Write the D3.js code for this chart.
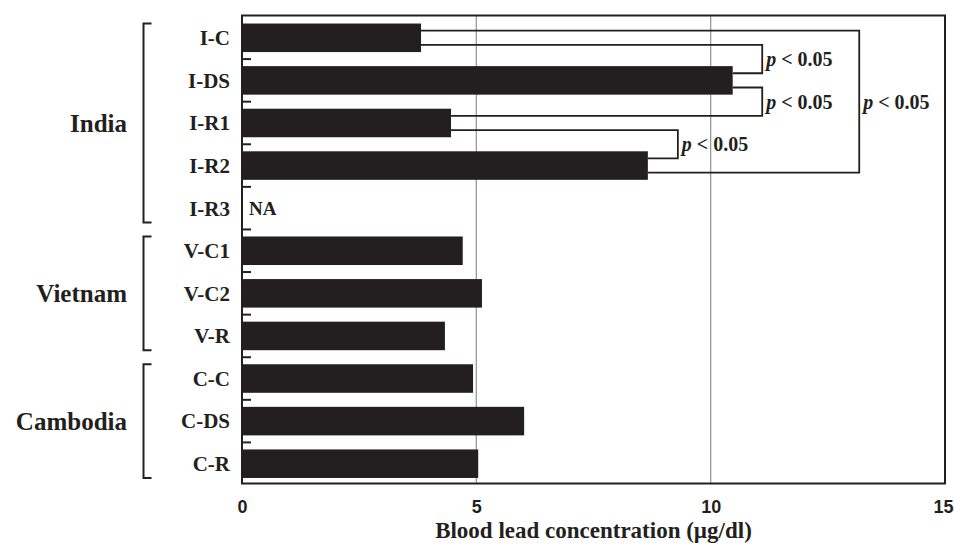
<!DOCTYPE html>
<html>
<head>
<meta charset="utf-8">
<script src="https://cdn.jsdelivr.net/npm/d3@7"></script>
<style>
  body { margin: 0; background: #fff; }
  svg { display: block; font-family: "Liberation Serif", "Times New Roman", serif; font-weight: bold; }
</style>
</head>
<body>
<div id="chart"></div>
<script>
// site codes, top to bottom
const categories = ["I-C", "I-DS", "I-R1", "I-R2", "I-R3", "V-C1", "V-C2", "V-R", "C-C", "C-DS", "C-R"];
// blood lead, µg/dl (I-R3 not available)
const values = [3.82, 10.47, 4.46, 8.66, null, 4.71, 5.12, 4.33, 4.93, 6.02, 5.04];

const countries = ["India", "Vietnam", "Cambodia"];
const countryFirst = ["I-C", "V-C1", "C-C"];
const countryLast = ["I-R3", "V-R", "C-R"];

const xTicks = [0, 5, 10, 15];
const gridValues = [5, 10];

// significance brackets: pair of sites, where the bracket stands (in µg/dl)
const compA = ["I-C", "I-DS", "I-R1", "I-C"];
const compB = ["I-DS", "I-R1", "I-R2", "I-R2"];
const compAt = [11.1, 11.1, 9.3, 13.17];
const compOuter = [false, false, false, true];
const pText = "< 0.05";
const naText = "NA";
const xTitle = "Blood lead concentration (µg/dl)";

const width = 954, height = 549;
const ink = "#231f20";
const plot = { left: 242, right: 945, top: 15.5, bottom: 483.5 };

const svg = d3.select("#chart").append("svg")
  .attr("width", width)
  .attr("height", height);

const x = d3.scaleLinear().domain([0, 15]).range([plot.left, plot.right]);
const y = d3.scaleBand()
  .domain(categories)
  .range([plot.top + 1, plot.bottom + 1.5])
  .paddingInner(0.33)
  .paddingOuter(0.165);

const bw = y.bandwidth();
const gap = y.step() - bw;
const val = c => values[categories.indexOf(c)];

// gridlines
svg.append("g")
  .selectAll("line")
  .data(gridValues)
  .join("line")
  .attr("x1", d => x(d)).attr("x2", d => x(d))
  .attr("y1", plot.top).attr("y2", plot.bottom)
  .attr("stroke", "#9a9a9a")
  .attr("stroke-width", 1.3);

// bars
const rows = categories.map((c, i) => ({ c, v: values[i] }));
svg.append("g")
  .selectAll("rect")
  .data(rows.filter(d => d.v != null))
  .join("rect")
  .attr("x", x(0))
  .attr("y", d => y(d.c))
  .attr("width", d => x(d.v) - x(0))
  .attr("height", bw)
  .attr("fill", ink);

// NA note
rows.filter(d => d.v == null).forEach(d => {
  svg.append("text")
    .attr("x", x(0) + 7)
    .attr("y", y(d.c) + bw / 2)
    .attr("dy", "0.35em")
    .attr("font-size", 19)
    .attr("fill", ink)
    .text(naText);
});

// significance brackets
const comps = compA.map((a, i) => ({ a, b: compB[i], at: compAt[i], outer: compOuter[i] }));
const upper = c => y(c) + bw * 0.25;
const lower = c => y(c) + bw * 0.75;

const cg = svg.append("g");
comps.forEach(d => {
  const y1 = d.outer ? upper(d.a) : lower(d.a);
  const y2 = d.outer ? lower(d.b) : upper(d.b);
  const p = d3.path();
  p.moveTo(x(val(d.a)), y1);
  p.lineTo(x(d.at), y1);
  p.lineTo(x(d.at), y2);
  p.lineTo(x(val(d.b)), y2);
  cg.append("path")
    .attr("d", p.toString())
    .attr("fill", "none")
    .attr("stroke", ink)
    .attr("stroke-width", 1.8);

  const t = cg.append("text")
    .attr("x", x(d.at) + 4)
    .attr("y", (y1 + y2) / 2)
    .attr("dy", "0.35em")
    .attr("font-size", 20)
    .attr("fill", ink);
  t.append("tspan").attr("font-style", "italic").text("p");
  t.append("tspan").text(" " + pText);
});

// frame
svg.append("rect")
  .attr("x", plot.left).attr("y", plot.top)
  .attr("width", plot.right - plot.left)
  .attr("height", plot.bottom - plot.top)
  .attr("fill", "none")
  .attr("stroke", ink)
  .attr("stroke-width", 2);

// small ticks between rows on the left axis
svg.append("g")
  .selectAll("line")
  .data(categories.slice(1))
  .join("line")
  .attr("x1", plot.left).attr("x2", plot.left + 9)
  .attr("y1", d => y(d) - gap / 2)
  .attr("y2", d => y(d) - gap / 2)
  .attr("stroke", ink)
  .attr("stroke-width", 2);

// site labels
svg.append("g")
  .selectAll("text")
  .data(categories)
  .join("text")
  .attr("x", 230)
  .attr("y", d => y(d) + bw / 2)
  .attr("dy", "0.35em")
  .attr("text-anchor", "end")
  .attr("font-size", 21)
  .attr("fill", ink)
  .text(d => d);

// country brackets + names
countries.forEach((name, i) => {
  const y0 = y(countryFirst[i]);
  const y1 = y(countryLast[i]) + bw;
  svg.append("path")
    .attr("d", `M151.5,${y0}H143.5V${y1}H151.5`)
    .attr("fill", "none")
    .attr("stroke", ink)
    .attr("stroke-width", 2);
  svg.append("text")
    .attr("x", 127)
    .attr("y", (y0 + y1) / 2)
    .attr("dy", "0.35em")
    .attr("text-anchor", "end")
    .attr("font-size", 25)
    .attr("fill", ink)
    .text(name);
});

// x axis labels
const xAxis = svg.append("g")
  .attr("transform", `translate(0,${plot.bottom})`)
  .call(d3.axisBottom(x).tickValues(xTicks).tickSize(0).tickPadding(17).tickFormat(d3.format("d")));
xAxis.select(".domain").remove();
xAxis.selectAll("text")
  .attr("font-size", 18)
  .attr("font-family", null)
  .attr("fill", ink);
// last label sits against the page edge
xAxis.selectAll("text").filter(d => d === xTicks[xTicks.length - 1])
  .attr("text-anchor", "end")
  .attr("x", 8);

svg.append("text")
  .attr("x", (plot.left + plot.right) / 2)
  .attr("y", 538)
  .attr("text-anchor", "middle")
  .attr("font-size", 23)
  .attr("fill", ink)
  .text(xTitle);
</script>
</body>
</html>
